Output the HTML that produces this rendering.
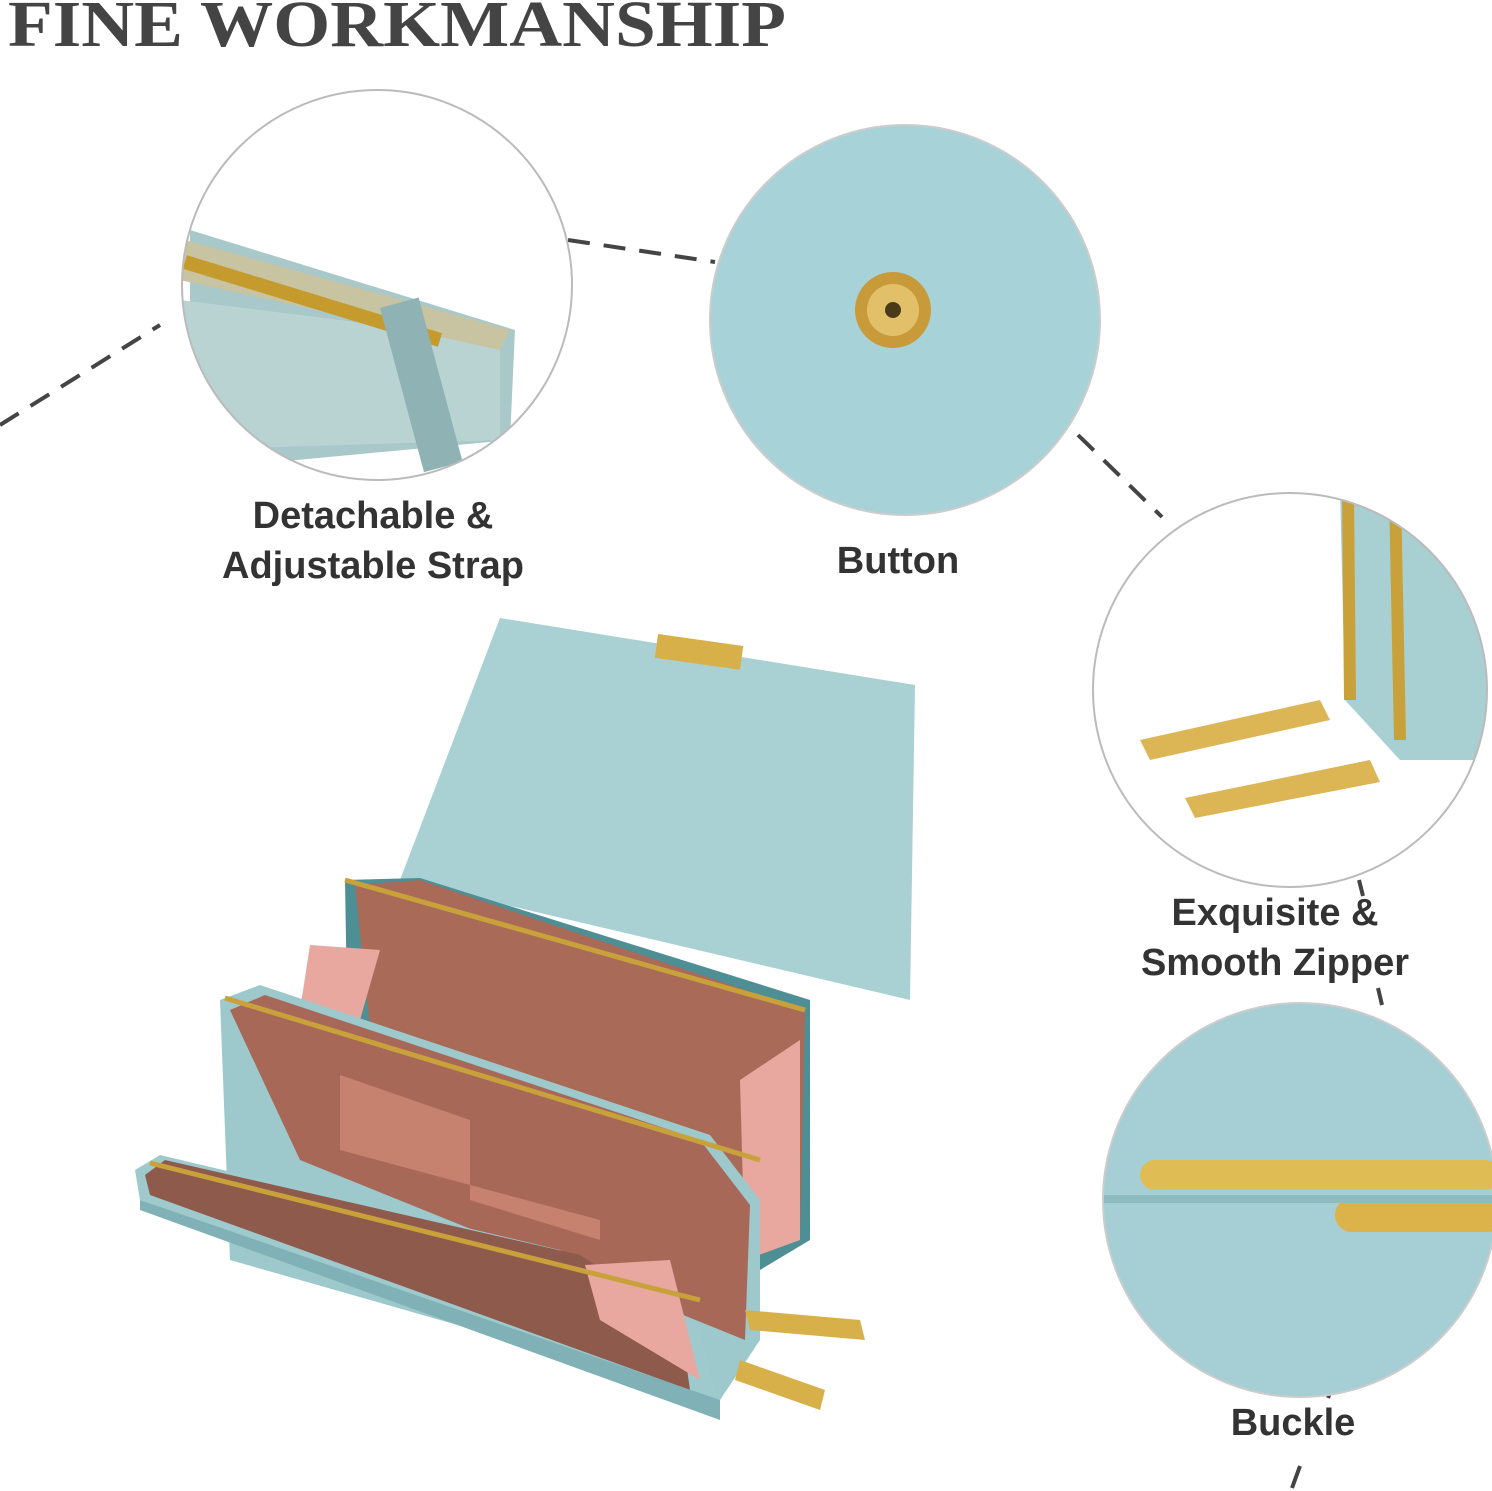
<!DOCTYPE html>
<html><head><meta charset="utf-8"><style>
html,body{margin:0;padding:0;background:#fff;}
svg{display:block}
</style></head><body>
<svg width="1492" height="1491" viewBox="0 0 1492 1491" xmlns="http://www.w3.org/2000/svg">
<defs>
<clipPath id="c1"><circle cx="377" cy="285" r="195"/></clipPath>
<clipPath id="c4"><circle cx="1300" cy="1200" r="197"/></clipPath>
<clipPath id="c3"><circle cx="1290" cy="690" r="197"/></clipPath>
</defs>
<rect width="1492" height="1491" fill="#fff"/>
<text x="8" y="46" font-family="Liberation Serif, serif" font-weight="bold" font-size="66" fill="#444" textLength="778" lengthAdjust="spacingAndGlyphs">FINE WORKMANSHIP</text>

<g stroke="#444" stroke-width="4" stroke-dasharray="22,14" fill="none">
<line x1="0" y1="425" x2="160" y2="325"/>
<line x1="568" y1="240" x2="715" y2="262"/>
<line x1="1078" y1="435" x2="1162" y2="517"/>
</g>
<g stroke="#444" stroke-width="4" fill="none">
<line x1="1359" y1="880" x2="1363" y2="896"/>
<line x1="1378" y1="988" x2="1382" y2="1005"/>
<line x1="1331" y1="1390" x2="1328" y2="1398"/>
<line x1="1300" y1="1466" x2="1292" y2="1488"/>
</g>

<g clip-path="url(#c1)">
<rect x="170" y="90" width="420" height="400" fill="#fff"/>
<polygon points="190,230 515,330 510,440 190,470" fill="#a9c8c9"/>
<polygon points="180,300 500,340 500,440 180,450" fill="#b9d3d3"/>
<polygon points="185,240 510,330 500,350 180,280" fill="#c8c3a0"/>
<line x1="185" y1="262" x2="440" y2="340" stroke="#c49b2c" stroke-width="14"/>
<rect x="400" y="300" width="40" height="170" fill="#8fb3b5" transform="rotate(-15 420 380)"/>
</g>
<circle cx="377" cy="285" r="195" fill="none" stroke="#bbb" stroke-width="2"/>

<circle cx="905" cy="320" r="195" fill="#a7d3d8" stroke="#ccc" stroke-width="2"/>
<circle cx="893" cy="310" r="38" fill="#c89a3a"/>
<circle cx="893" cy="310" r="26" fill="#e2c06a"/>
<circle cx="893" cy="310" r="8" fill="#4a3a1a"/>

<g clip-path="url(#c3)">
<rect x="1090" y="490" width="400" height="400" fill="#fff"/>
<polygon points="1340,490 1490,490 1490,760 1400,760 1345,700" fill="#a8cfd2"/>
<line x1="1348" y1="495" x2="1350" y2="700" stroke="#c9a13b" stroke-width="12"/>
<line x1="1395" y1="495" x2="1400" y2="740" stroke="#c9a13b" stroke-width="12"/>
<polygon points="1140,740 1320,700 1330,720 1150,760" fill="#dcb655"/>
<polygon points="1185,798 1370,760 1380,782 1195,818" fill="#dcb655"/>
</g>
<circle cx="1290" cy="690" r="197" fill="none" stroke="#bbb" stroke-width="2"/>

<g clip-path="url(#c4)">
<rect x="1090" y="1000" width="420" height="400" fill="#a5cfd4"/>
<rect x="1140" y="1160" width="360" height="30" rx="15" fill="#e0bc55"/>
<rect x="1335" y="1198" width="170" height="34" rx="17" fill="#dcb24a"/>
<rect x="1090" y="1195" width="420" height="8" fill="#8fbcc1"/>
</g>
<circle cx="1300" cy="1200" r="197" fill="none" stroke="#ccc" stroke-width="2"/>

<g font-family="Liberation Sans, sans-serif" font-weight="bold" font-size="38" fill="#333" text-anchor="middle">
<text x="373" y="528">Detachable &amp;</text>
<text x="373" y="578">Adjustable Strap</text>
<text x="898" y="573">Button</text>
<text x="1275" y="925">Exquisite &amp;</text>
<text x="1275" y="975">Smooth Zipper</text>
<text x="1293" y="1435">Buckle</text>
</g>

<polygon points="500,618 915,685 910,1000 400,880" fill="#a9d0d3"/>
<polygon points="345,880 420,878 810,1000 810,1240 760,1270 350,1180" fill="#4e8e95"/>
<polygon points="355,885 420,880 805,1010 800,1240 380,1120" fill="#a96a58"/>
<polygon points="310,945 380,950 360,1020 300,1010" fill="#e8a8a0"/>
<polygon points="740,1080 800,1040 800,1240 745,1260" fill="#e8a8a0"/>
<polygon points="220,1000 260,985 710,1135 760,1200 760,1340 720,1400 230,1260" fill="#9dc8cc"/>
<polygon points="230,1010 265,995 700,1140 750,1205 745,1340 300,1160" fill="#a86858"/>
<polygon points="340,1075 470,1120 470,1200 600,1240 600,1220 340,1150" fill="#c7826f"/>
<polygon points="135,1170 160,1155 560,1250 700,1330 720,1410 140,1200" fill="#9ec9cd"/>
<polygon points="145,1175 165,1160 580,1255 680,1320 690,1390 150,1195" fill="#8e5a4c"/>
<polygon points="140,1200 720,1400 720,1420 140,1210" fill="#7fb1b6"/>
<polygon points="585,1265 670,1260 700,1380 600,1320" fill="#e8a8a0"/>
<line x1="150" y1="1163" x2="700" y2="1300" stroke="#c9a13b" stroke-width="5"/>
<line x1="225" y1="998" x2="760" y2="1160" stroke="#c9a13b" stroke-width="5"/>
<line x1="345" y1="880" x2="805" y2="1010" stroke="#c9a13b" stroke-width="5"/>
<rect x="656" y="640" width="86" height="24" fill="#d8b04a" transform="rotate(8 700 652)"/>
<polygon points="745,1310 860,1320 865,1340 750,1330" fill="#d8b04a"/>
<polygon points="740,1360 825,1390 820,1410 735,1380" fill="#d8b04a"/>
</svg>
</body></html>
